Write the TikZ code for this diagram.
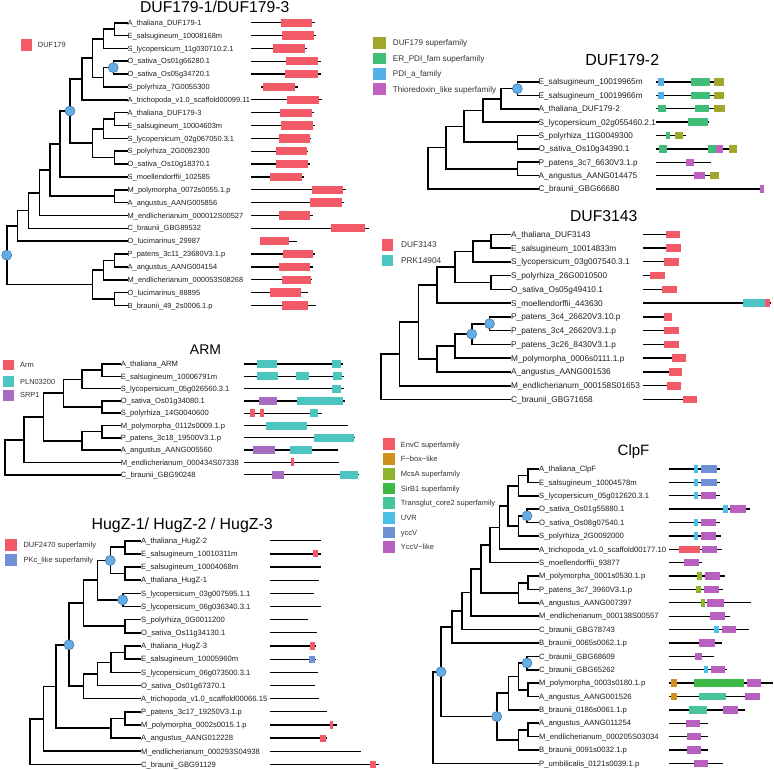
\documentclass[tikz,border=0pt]{standalone}
\usepackage{fontspec}
\setmainfont{Liberation Sans}
\definecolor{cred}{RGB}{242,90,104}
\definecolor{cduf}{RGB}{160,168,42}
\definecolor{cer}{RGB}{64,190,120}
\definecolor{cpdi}{RGB}{85,176,232}
\definecolor{cthio}{RGB}{192,96,192}
\definecolor{cteal}{RGB}{76,196,196}
\definecolor{cpln}{RGB}{76,196,192}
\definecolor{csrp}{RGB}{165,108,194}
\definecolor{cpkc}{RGB}{112,144,212}
\definecolor{cfbox}{RGB}{208,144,30}
\definecolor{cmcsa}{RGB}{141,181,42}
\definecolor{csirb}{RGB}{60,185,68}
\definecolor{ctrans}{RGB}{72,196,153}
\definecolor{cuvr}{RGB}{74,192,232}
\definecolor{cyccv}{RGB}{112,144,212}
\definecolor{cylike}{RGB}{184,96,192}
\definecolor{cblue}{RGB}{100,172,228}
\definecolor{cblueD}{RGB}{60,110,160}
\begin{document}
\begin{tikzpicture}[x=1pt,y=-1pt,
 br/.style={line width=1.6pt, line join=miter, black},
 dom/.style={line width=1.3pt, black},
 circ/.style={circle, fill=cblue, draw=cblueD, line width=0.5pt, minimum size=10pt, inner sep=0pt},
 labbase/.style={anchor=west, inner sep=0pt, text=black!88, text depth=0pt},
 labA/.style={labbase, font=\fontsize{7.45}{8}\selectfont, text height=5.33pt},
 labB/.style={labbase, font=\fontsize{8.2}{9}\selectfont, text height=5.87pt},
 labC/.style={labbase, font=\fontsize{8.3}{9}\selectfont, text height=5.94pt},
 labD/.style={labbase, font=\fontsize{7.6}{8}\selectfont, text height=5.44pt},
 labE/.style={labbase, font=\fontsize{7.65}{8}\selectfont, text height=5.48pt},
 labF/.style={labbase, font=\fontsize{7.7}{8}\selectfont, text height=5.51pt},
 ttl/.style={inner sep=0pt, text=black, text depth=0pt},
 lsq/.style={minimum width=11.5pt, minimum height=11.5pt, inner sep=0pt, draw=none},
 ltx/.style={labbase, text=black!80}
]
\fill[white] (0,0) rectangle (774,769);
\useasboundingbox (0,0) rectangle (774,769);

% ================= DUF179-1 / DUF179-3 =================
\node[ttl, font=\fontsize{15.7}{16}\selectfont, text height=11.2pt] (T1) at (214.7,6.9) {DUF179-1/DUF179-3};
\node[lsq, fill=cred] (L1a) at (26.35,45) {};
\node[ltx, font=\fontsize{7.5}{8}\selectfont, text height=5.4pt] (L1at) at (37.7,45) {DUF179};
\foreach \n/\y/\lbl in {1/22.7/A\_thaliana\_DUF179-1, 2/35.55/E\_salsugineum\_10008168m, 3/48.4/S\_lycopersicum\_11g030710.2.1, 4/61.25/O\_sativa\_Os01g66280.1, 5/74.1/O\_sativa\_Os05g34720.1, 6/86.95/S\_polyrhiza\_7G0055300, 7/99.8/A\_trichopoda\_v1.0\_scaffold00099.11, 8/112.65/A\_thaliana\_DUF179-3, 9/125.5/E\_salsugineum\_10004603m, 10/138.35/S\_lycopersicum\_02g067050.3.1, 11/151.2/S\_polyrhiza\_2G0092300, 12/164.05/O\_sativa\_Os10g18370.1, 13/176.9/S\_moellendorffii\_102585, 14/189.75/M\_polymorpha\_0072s0055.1.p, 15/202.6/A\_angustus\_AANG005856, 16/215.45/M\_endlicherianum\_000012S00527, 17/228.3/C\_braunii\_GBG89532, 18/241.15/O\_lucimarinus\_29987, 19/254/P\_patens\_3c11\_23680V3.1.p, 20/266.85/A\_angustus\_AANG004154, 21/279.7/M\_endlicherianum\_000053S08268, 22/292.55/O\_lucimarinus\_88895, 23/305.4/B\_braunii\_49\_2s0006.1.p}
  {\node[labA] (Pt\n) at (127.5,\y) {\lbl};}
\coordinate (Pa1) at (114.3,29.125);
\coordinate (Pa2) at (103.3,38.76);
\coordinate (Pa3) at (113.3,67.675);
\coordinate (Pa4) at (103.3,77.31);
\coordinate (Pa5) at (92.3,58.04);
\coordinate (Pa6) at (81.7,78.92);
\coordinate (Pb1) at (114.3,119.075);
\coordinate (Pb2) at (103.3,128.71);
\coordinate (Pb3) at (114.3,157.625);
\coordinate (Pb4) at (92.3,143.17);
\coordinate (Pd) at (70,111.05);
\coordinate (Pc) at (60,143.97);
\coordinate (Pe1) at (114.3,196.175);
\coordinate (PB) at (50,170.07);
\coordinate (PA) at (39.3,192.76);
\coordinate (Pf) at (28.3,210.53);
\coordinate (Pg) at (17.3,225.84);
\coordinate (Ph1) at (114.3,260.425);
\coordinate (Ph2) at (103.3,270.06);
\coordinate (Ph3) at (114.3,298.975);
\coordinate (Ph4) at (92.3,284.52);
\coordinate (Proot) at (6.7,255.18);
\foreach \p/\c in {Proot/Pg, Proot/Ph4, Pg/Pf, Pf/PA, PA/PB, PB/Pc, PB/Pe1, Pc/Pd, Pd/Pa6, Pd/Pb4, Pa6/Pa5, Pa5/Pa2, Pa5/Pa4, Pa2/Pa1, Pa4/Pa3, Pb4/Pb2, Pb4/Pb3, Pb2/Pb1, Ph4/Ph2, Ph4/Ph3, Ph2/Ph1}
  {\draw[br] (\p) |- (\c);}
\foreach \p/\c in {Pa1/Pt1, Pa1/Pt2, Pa2/Pt3, Pa3/Pt4, Pa3/Pt5, Pa4/Pt6, Pa6/Pt7, Pb1/Pt8, Pb1/Pt9, Pb2/Pt10, Pb3/Pt11, Pb3/Pt12, Pc/Pt13, Pe1/Pt14, Pe1/Pt15, PA/Pt16, Pf/Pt17, Pg/Pt18, Ph1/Pt19, Ph1/Pt20, Ph2/Pt21, Ph3/Pt22, Ph3/Pt23}
  {\draw[br] (\p) |- (\c.west);}
\foreach \y/\a/\b in {22.7/251/315, 35.55/251/316.3, 48.4/251/307.3, 61.25/251/320.7, 74.1/251/320.7, 86.95/261/297.7, 99.8/251/321.7, 112.65/251/314.3, 125.5/251/314.7, 138.35/251/311, 151.2/251/308.3, 164.05/251/309.7, 176.9/251/304.3, 189.75/251/346, 202.6/251/344.3, 215.45/251/312.7, 228.3/251/368.7, 241.15/260/297.3, 254/251/315, 266.85/251/312.7, 279.7/251/311.7, 292.55/251/307.7, 305.4/251/316}
  {\draw[dom] (\a,\y) -- (\b,\y);}
\foreach \y/\a/\b in {22.7/281/312.3, 35.55/282/313.7, 48.4/273/305, 61.25/285.7/318.3, 74.1/285/317.7, 86.95/263.3/295.3, 99.8/287/319, 112.65/280.3/312.3, 125.5/281/313.3, 138.35/278.7/310, 151.2/276.3/307, 164.05/275.7/308.3, 176.9/270.3/301.7, 189.75/312.3/343.3, 202.6/310.3/341.7, 215.45/279/309.7, 228.3/331.3/365.3, 241.15/260.3/288.7, 254/283/313, 266.85/279/310, 279.7/282/310.7, 292.55/270.3/301.3, 305.4/281.7/308}
  {\fill[cred] (\a,{\y-4.15}) rectangle (\b,{\y+4.15});}
\foreach \c in {Pa3,Pd,Proot} {\node[circ] (C\c) at (\c) {};}

% ================= DUF179-2 =================
\node[ttl, font=\fontsize{16}{17}\selectfont, text height=11.45pt] (T2) at (622.3,60) {DUF179-2};
\foreach \n/\y/\c/\lbl in {1/43/cduf/DUF179 superfamily, 2/58.6/cer/ER\_PDI\_fam superfamily, 3/74/cpdi/PDI\_a\_family, 4/89.3/cthio/Thioredoxin\_like superfamily}
  {\node[lsq, fill=\c, minimum width=12.3pt, minimum height=11.7pt] (L2s\n) at (379.5,\y) {};
   \node[ltx, font=\fontsize{8.15}{9}\selectfont, text height=5.84pt] (L2t\n) at (392.7,\y) {\lbl};}
\foreach \n/\y/\lbl in {1/82/E\_salsugineum\_10019965m, 2/95.375/E\_salsugineum\_10019966m, 3/108.75/A\_thaliana\_DUF179-2, 4/122.125/S\_lycopersicum\_02g055460.2.1, 5/135.5/S\_polyrhiza\_11G0049300, 6/148.875/O\_sativa\_Os10g34390.1, 7/162.25/P\_patens\_3c7\_6630V3.1.p, 8/175.625/A\_angustus\_AANG014475, 9/189/C\_braunii\_GBG66680}
  {\node[labB] (Qt\n) at (538.5,\y) {\lbl};}
\coordinate (Qp1) at (517.3,88.69);
\coordinate (Qp2) at (500.7,98.72);
\coordinate (Qp3) at (482.7,110.42);
\coordinate (Qp4) at (517.3,142.19);
\coordinate (Qp5) at (464,126.3);
\coordinate (Qp6) at (517.3,168.94);
\coordinate (Qp7) at (446,147.62);
\coordinate (Qroot) at (427.7,168.31);
\foreach \p/\c in {Qroot/Qp7, Qp7/Qp5, Qp7/Qp6, Qp5/Qp3, Qp5/Qp4, Qp3/Qp2, Qp2/Qp1}
  {\draw[br] (\p) |- (\c);}
\foreach \p/\c in {Qp1/Qt1, Qp1/Qt2, Qp2/Qt3, Qp3/Qt4, Qp4/Qt5, Qp4/Qt6, Qp6/Qt7, Qp6/Qt8, Qroot/Qt9}
  {\draw[br] (\p) |- (\c.west);}
\foreach \y/\a/\b in {82/655.7/724, 95.375/655.7/724, 108.75/655.7/724.7, 122.125/655.7/708.7, 135.5/656/685.7, 148.875/655.7/737.3, 162.25/655.7/710.7, 175.625/655.7/719.3, 189/655.7/764}
  {\draw[dom] (\a,\y) -- (\b,\y);}
\foreach \c/\y/\a/\b in {cpdi/82/657.7/664.3, cer/82/691.3/709.7, cduf/82/714.3/724, cpdi/95.375/657.7/664.3, cer/95.375/691.3/709.7, cduf/95.375/714.3/724, cer/108.75/657.7/666.3, cer/108.75/695/709.3, cduf/108.75/714.3/724.7, cer/122.125/688.3/708, cer/135.5/666/670, cduf/135.5/675/683.3, cer/148.875/658.7/666.7, cer/148.875/707.7/716, cthio/148.875/716/723.3, cduf/148.875/728.7/737, cthio/162.25/685.7/694.3, cthio/175.625/694/704.7, cduf/175.625/710/719, cthio/189/760.3/763.7}
  {\fill[\c] (\a,{\y-3.7}) rectangle (\b,{\y+3.7});}
\node[circ] (CQp1) at (Qp1) {};

% ================= DUF3143 =================
\node[ttl, font=\fontsize{15.7}{16}\selectfont, text height=11.2pt] (T3) at (603.7,215.8) {DUF3143};
\foreach \n/\y/\c/\lbl in {1/245/cred/DUF3143, 2/260.7/cteal/PRK14904}
  {\node[lsq, fill=\c] (L3s\n) at (387.7,\y) {};
   \node[ltx, font=\fontsize{8.3}{9}\selectfont, text height=5.94pt] (L3t\n) at (401,\y) {\lbl};}
\foreach \n/\y/\lbl in {1/234.3/A\_thaliana\_DUF3143, 2/248.05/E\_salsugineum\_10014833m, 3/261.8/S\_lycopersicum\_03g007540.3.1, 4/275.6/S\_polyrhiza\_26G0010500, 5/289.3/O\_sativa\_Os05g49410.1, 6/303.1/S\_moellendorffii\_443630, 7/316.9/P\_patens\_3c4\_26620V3.10.p, 8/330.6/P\_patens\_3c4\_26620V3.1.p, 9/344.4/P\_patens\_3c26\_8430V3.1.p, 10/358.1/M\_polymorpha\_0006s0111.1.p, 11/371.9/A\_angustus\_AANG001536, 12/385.7/M\_endlicherianum\_000158S01653, 13/399.4/C\_braunii\_GBG71658}
  {\node[labC] (Rt\n) at (511,\y) {\lbl};}
\coordinate (Rq1) at (490.7,241.18);
\coordinate (Rq2) at (472.7,251.49);
\coordinate (Rq3) at (490.7,282.45);
\coordinate (Rq4) at (455,266.97);
\coordinate (Rq5) at (436.7,285.03);
\coordinate (Rq6) at (489.5,323.75);
\coordinate (Rq7) at (471.7,334.08);
\coordinate (Rq8) at (455,346.09);
\coordinate (Rq9) at (436.7,359.0);
\coordinate (Rq10) at (418.3,322.0);
\coordinate (Rq11) at (399.3,353.85);
\coordinate (Rroot) at (380.7,376.6);
\foreach \p/\c in {Rroot/Rq11, Rq11/Rq10, Rq10/Rq5, Rq10/Rq9, Rq5/Rq4, Rq4/Rq2, Rq4/Rq3, Rq2/Rq1, Rq9/Rq8, Rq8/Rq7, Rq7/Rq6}
  {\draw[br] (\p) |- (\c);}
\foreach \p/\c in {Rq1/Rt1, Rq1/Rt2, Rq2/Rt3, Rq3/Rt4, Rq3/Rt5, Rq5/Rt6, Rq6/Rt7, Rq6/Rt8, Rq7/Rt9, Rq8/Rt10, Rq9/Rt11, Rq11/Rt12, Rroot/Rt13}
  {\draw[br] (\p) |- (\c.west);}
\foreach \y/\a/\b in {234.3/642.7/680, 248.05/642.7/681, 261.8/642.7/678.7, 275.6/642.7/665.3, 289.3/642.7/677, 303.1/642.7/770.7, 316.9/642.7/672, 330.6/642.7/679.3, 344.4/642.7/679, 358.1/642.7/686.3, 371.9/642.7/682, 385.7/642.7/681, 399.4/642.7/696.7}
  {\draw[dom] (\a,\y) -- (\b,\y);}
\foreach \c/\y/\a/\b in {cred/234.3/665.7/680, cred/248.05/666/680.7, cred/261.8/663.7/678.7, cred/275.6/650.3/665.3, cred/289.3/662.3/677, cteal/303.1/742.7/765.3, cred/303.1/765.3/770, cred/316.9/664.3/672, cred/330.6/664.3/679.3, cred/344.4/664/679, cred/358.1/672/686.3, cred/371.9/669/682, cred/385.7/667/681, cred/399.4/682.7/696.7}
  {\fill[\c] (\a,{\y-3.8}) rectangle (\b,{\y+3.8});}
\foreach \c in {Rq6,Rq7} {\node[circ] (C\c) at (\c) {};}

% ================= ARM =================
\node[ttl, font=\fontsize{14}{15}\selectfont, text height=10pt] (T4) at (205.5,349) {ARM};
\foreach \n/\y/\c/\lbl in {1/365/cred/Arm, 2/381.7/cpln/PLN03200, 3/395.3/csrp/SRP1}
  {\node[lsq, fill=\c, minimum width=11.3pt, minimum height=10.8pt] (L4s\n) at (8.35,\y) {};
   \node[ltx, font=\fontsize{7.4}{8}\selectfont, text height=5.3pt] (L4t\n) at (20,\y) {\lbl};}
\foreach \n/\y/\lbl in {1/364/A\_thaliana\_ARM, 2/376.3/E\_salsugineum\_10006791m, 3/388.6/S\_lycopersicum\_05g026560.3.1, 4/400.9/O\_sativa\_Os01g34080.1, 5/413.2/S\_polyrhiza\_14G0040600, 6/425.5/M\_polymorpha\_0112s0009.1.p, 7/437.8/P\_patens\_3c18\_19500V3.1.p, 8/450.1/A\_angustus\_AANG005560, 9/462.4/M\_endlicherianum\_000434S07338, 10/474.7/C\_braunii\_GBG90248}
  {\node[labD] (St\n) at (120.7,\y) {\lbl};}
\coordinate (Sm1) at (101.7,370.15);
\coordinate (Sm2) at (81.7,379.38);
\coordinate (Sm3) at (101.7,407.05);
\coordinate (Sm4) at (63.3,393.2);
\coordinate (Sm5) at (101.7,431.65);
\coordinate (Sm6) at (81.7,440.88);
\coordinate (Sm7) at (43.3,417.04);
\coordinate (Sm8) at (24,439.72);
\coordinate (Sroot) at (5,457.2);
\foreach \p/\c in {Sroot/Sm8, Sm8/Sm7, Sm7/Sm4, Sm7/Sm6, Sm4/Sm2, Sm4/Sm3, Sm2/Sm1, Sm6/Sm5}
  {\draw[br] (\p) |- (\c);}
\foreach \p/\c in {Sm1/St1, Sm1/St2, Sm2/St3, Sm3/St4, Sm3/St5, Sm5/St6, Sm5/St7, Sm6/St8, Sm8/St9, Sroot/St10}
  {\draw[br] (\p) |- (\c.west);}
\foreach \y/\a/\b in {364/244/343.3, 376.3/244/344.3, 388.6/244/343.7, 400.9/244/345, 413.2/244/322, 425.5/244/348.3, 437.8/244/355.3, 450.1/244/338, 462.4/244/339.3, 474.7/244/359.3}
  {\draw[dom] (\a,\y) -- (\b,\y);}
\foreach \c/\y/\a/\b in {cpln/364/257/277.3, cpln/364/331.7/340.7, cpln/376.3/257/278, cpln/376.3/296/309.3, cpln/376.3/333/342, cpln/388.6/332/341, csrp/400.9/259.3/277, cpln/400.9/297/342.7, cred/413.2/250/254.7, cred/413.2/260/264.3, cpln/413.2/310.3/317.7, cpln/425.5/266.3/307.3, cpln/437.8/314.3/353.7, csrp/450.1/252.7/275.3, cpln/450.1/290/312, cred/462.4/291.3/293.7, csrp/474.7/271.7/284, cpln/474.7/340/358}
  {\fill[\c] (\a,{\y-4}) rectangle (\b,{\y+4});}

% ================= HugZ =================
\node[ttl, font=\fontsize{15.9}{16}\selectfont, text height=11.4pt] (T5) at (182.2,524.2) {HugZ-1/ HugZ-2 / HugZ-3};
\foreach \n/\y/\c/\lbl in {1/545/cred/DUF2470 superfamily, 2/560/cpkc/PKc\_like superfamily}
  {\node[lsq, fill=\c, minimum width=11.7pt] (L5s\n) at (10.85,\y) {};
   \node[ltx, font=\fontsize{7.5}{8}\selectfont, text height=5.4pt] (L5t\n) at (23.3,\y) {\lbl};}
\foreach \n/\y/\lbl in {1/540.7/A\_thaliana\_HugZ-2, 2/553.86/E\_salsugineum\_10010311m, 3/567.02/E\_salsugineum\_10004068m, 4/580.18/A\_thaliana\_HugZ-1, 5/593.34/S\_lycopersicum\_03g007595.1.1, 6/606.5/S\_lycopersicum\_06g036340.3.1, 7/619.66/S\_polyrhiza\_0G0011200, 8/632.82/O\_sativa\_Os11g34130.1, 9/645.98/A\_thaliana\_HugZ-3, 10/659.14/E\_salsugineum\_10005960m, 11/672.3/S\_lycopersicum\_06g073500.3.1, 12/685.46/O\_sativa\_Os01g67370.1, 13/698.62/A\_trichopoda\_v1.0\_scaffold00066.15, 14/711.78/P\_patens\_3c17\_19250V3.1.p, 15/724.94/M\_polymorpha\_0002s0015.1.p, 16/738.1/A\_angustus\_AANG012228, 17/751.26/M\_endlicherianum\_000293S04938, 18/764.42/C\_braunii\_GBG91129}
  {\node[labE] (Ut\n) at (141,\y) {\lbl};}
\coordinate (Uh1) at (125,547.28);
\coordinate (Uh2) at (125,573.6);
\coordinate (Uh3) at (110.3,560.44);
\coordinate (Uh4) at (122.7,599.92);
\coordinate (Uh5) at (97.3,580.18);
\coordinate (Uh6) at (125,626.24);
\coordinate (Uh7) at (83.3,603.21);
\coordinate (Uh8) at (125,652.56);
\coordinate (Uh9) at (111,662.43);
\coordinate (Uh10) at (97.3,673.95);
\coordinate (Uh11) at (83.3,686.28);
\coordinate (Uh12) at (69,644.75);
\coordinate (Uh13) at (125,718.36);
\coordinate (Uh14) at (111,728.23);
\coordinate (Uh15) at (56,686.49);
\coordinate (Uh16) at (43.3,718.88);
\coordinate (Uroot) at (30,741.65);
\foreach \p/\c in {Uroot/Uh16, Uh16/Uh15, Uh15/Uh12, Uh15/Uh14, Uh12/Uh7, Uh12/Uh11, Uh7/Uh5, Uh7/Uh6, Uh5/Uh3, Uh5/Uh4, Uh3/Uh1, Uh3/Uh2, Uh11/Uh10, Uh10/Uh9, Uh9/Uh8, Uh14/Uh13}
  {\draw[br] (\p) |- (\c);}
\foreach \p/\c in {Uh1/Ut1, Uh1/Ut2, Uh2/Ut3, Uh2/Ut4, Uh4/Ut5, Uh4/Ut6, Uh6/Ut7, Uh6/Ut8, Uh8/Ut9, Uh8/Ut10, Uh9/Ut11, Uh10/Ut12, Uh11/Ut13, Uh13/Ut14, Uh13/Ut15, Uh14/Ut16, Uh16/Ut17, Uroot/Ut18}
  {\draw[br] (\p) |- (\c.west);}
\foreach \y/\a/\b in {540.7/270/320.7, 553.86/270/320.7, 567.02/270/320.7, 580.18/270/319, 593.34/270/314.3, 606.5/270/321, 619.66/270/308, 632.82/270/317, 645.98/270/316.3, 659.14/270/316.3, 672.3/270/317.7, 685.46/270/315.3, 698.62/270/318.7, 711.78/270/327.3, 724.94/270/337.3, 738.1/270/326.7, 751.26/270/360.7, 764.42/270/378.7}
  {\draw[dom] (\a,\y) -- (\b,\y);}
\foreach \c/\y/\a/\b in {cred/553.86/313.3/318.3, cred/645.98/310/314.7, cpkc/659.14/309.3/314.7, cred/724.94/330.3/333.3, cred/738.1/320.3/326.3, cred/764.42/370.3/376.3}
  {\fill[\c] (\a,{\y-3.6}) rectangle (\b,{\y+3.6});}
\foreach \c in {Uh3,Uh4,Uh12} {\node[circ] (C\c) at (\c) {};}

% ================= ClpF =================
\node[ttl, font=\fontsize{15}{16}\selectfont, text height=10.7pt] (T6) at (633.5,450) {ClpF};
\foreach \n/\y/\c/\lbl in {1/444.3/cred/EnvC superfamily, 2/459/cfbox/F−box−like, 3/473.7/cmcsa/McsA superfamily, 4/488.4/csirb/SirB1 superfamily, 5/503.1/ctrans/Transglut\_core2 superfamily, 6/517.8/cuvr/UVR, 7/532.5/cyccv/yccV, 8/547.2/cylike/YccV−like}
  {\node[lsq, fill=\c, minimum height=11.7pt] (L6s\n) at (389,\y) {};
   \node[ltx, font=\fontsize{7.5}{8}\selectfont, text height=5.4pt] (L6t\n) at (400.7,\y) {\lbl};}
\foreach \n/\y/\lbl in {1/469/A\_thaliana\_ClpF, 2/482.38/E\_salsugineum\_10004578m, 3/495.76/S\_lycopersicum\_05g012620.3.1, 4/509.14/O\_sativa\_Os01g55880.1, 5/522.52/O\_sativa\_Os08g07540.1, 6/535.9/S\_polyrhiza\_2G0092000, 7/549.28/A\_trichopoda\_v1.0\_scaffold00177.10, 8/562.66/S\_moellendorffii\_93877, 9/576.04/M\_polymorpha\_0001s0530.1.p, 10/589.42/P\_patens\_3c7\_3960V3.1.p, 11/602.8/A\_angustus\_AANG007397, 12/616.18/M\_endlicherianum\_000138S00557, 13/629.56/C\_braunii\_GBG78743, 14/642.94/B\_braunii\_0065s0062.1.p, 15/656.32/C\_braunii\_GBG68609, 16/669.7/C\_braunii\_GBG65262, 17/683.08/M\_polymorpha\_0003s0180.1.p, 18/696.46/A\_angustus\_AANG001526, 19/709.84/B\_braunii\_0186s0061.1.p, 20/723.22/A\_angustus\_AANG011254, 21/736.6/M\_endlicherianum\_000205S03034, 22/749.98/B\_braunii\_0091s0032.1.p, 23/763.36/P\_umbilicalis\_0121s0039.1.p}
  {\node[labF] (Vt\n) at (539,\y) {\lbl};}
\coordinate (Vk1) at (527.7,475.69);
\coordinate (Vk2) at (518.3,485.73);
\coordinate (Vk3) at (527,515.83);
\coordinate (Vk4) at (518.3,525.87);
\coordinate (Vk5) at (508,505.8);
\coordinate (Vk6) at (499.3,527.54);
\coordinate (Vk7) at (490,545.1);
\coordinate (Vk8) at (527.7,582.73);
\coordinate (Vk9) at (518.3,592.77);
\coordinate (Vk10) at (480.7,568.94);
\coordinate (Vk11) at (471,592.56);
\coordinate (Vk12) at (461.7,611.06);
\coordinate (Vk13) at (451.7,627.0);
\coordinate (Vk14) at (527,663.01);
\coordinate (Vk15) at (527.7,689.77);
\coordinate (Vk16) at (518.3,676.39);
\coordinate (Vk17) at (508.3,693.12);
\coordinate (Vk18) at (527.7,729.91);
\coordinate (Vk19) at (518.3,739.95);
\coordinate (Vk20) at (496.7,716.53);
\coordinate (Vk21) at (441,671.77);
\coordinate (Vroot) at (432.7,717.56);
\foreach \p/\c in {Vroot/Vk21, Vk21/Vk13, Vk21/Vk20, Vk13/Vk12, Vk12/Vk11, Vk11/Vk10, Vk10/Vk7, Vk10/Vk9, Vk7/Vk6, Vk6/Vk5, Vk5/Vk2, Vk5/Vk4, Vk2/Vk1, Vk4/Vk3, Vk9/Vk8, Vk20/Vk17, Vk20/Vk19, Vk17/Vk16, Vk16/Vk14, Vk16/Vk15, Vk19/Vk18}
  {\draw[br] (\p) |- (\c);}
\foreach \p/\c in {Vk1/Vt1, Vk1/Vt2, Vk2/Vt3, Vk3/Vt4, Vk3/Vt5, Vk4/Vt6, Vk6/Vt7, Vk7/Vt8, Vk8/Vt9, Vk8/Vt10, Vk9/Vt11, Vk11/Vt12, Vk12/Vt13, Vk13/Vt14, Vk14/Vt15, Vk14/Vt16, Vk15/Vt17, Vk15/Vt18, Vk17/Vt19, Vk18/Vt20, Vk18/Vt21, Vk19/Vt22, Vroot/Vt23}
  {\draw[br] (\p) |- (\c.west);}
\foreach \y/\a/\b in {469/669.3/720, 482.38/669.3/720, 495.76/669.3/720, 509.14/669.3/750.3, 522.52/669.3/720.3, 535.9/669.3/720.7, 549.28/669.3/721.7, 562.66/669.3/701.7, 576.04/669.3/725.3, 589.42/669.3/723, 602.8/669.3/751.3, 616.18/669.3/730, 629.56/669.3/748.7, 642.94/669.3/721.7, 656.32/669.3/714.3, 669.7/669.3/727, 683.08/669.3/772.7, 696.46/669.3/760, 709.84/669.3/744.7, 723.22/669.3/708.3, 736.6/669.3/708.3, 749.98/669.3/708.3, 763.36/669.3/723.3}
  {\draw[dom] (\a,\y) -- (\b,\y);}
\foreach \c/\y/\a/\b in {cuvr/469/694/698.3, cyccv/469/700.7/717, cuvr/482.38/694/698.3, cyccv/482.38/700.7/717, cuvr/495.76/694/698.3, cylike/495.76/700.7/716, cuvr/509.14/723.3/727.7, cylike/509.14/730/745.7, cuvr/522.52/694/698.3, cylike/522.52/700.7/715.7, cuvr/535.9/694/698.3, cylike/535.9/701.3/716.3, cred/549.28/679/700.3, cylike/549.28/701.7/716.7, cylike/562.66/684/699, cmcsa/576.04/697.3/702, cylike/576.04/705.3/720.3, cmcsa/589.42/696.3/701, cylike/589.42/704/719, cmcsa/602.8/700.7/705, cylike/602.8/706.7/723.7, cylike/616.18/710/725, cuvr/629.56/714.3/719.3, cylike/629.56/721.7/736.3, cylike/642.94/698.7/715, cylike/656.32/694.7/702, cuvr/669.7/703.7/708.3, cylike/669.7/710.7/725, cfbox/683.08/671/677.3, csirb/683.08/693.7/744, cylike/683.08/746.7/760.7, cfbox/696.46/671/677.3, ctrans/696.46/698.7/726, cylike/696.46/745/760, ctrans/709.84/689/706.7, cylike/709.84/722.7/737.7, cylike/723.22/686.3/700, cylike/736.6/687/700.7, cylike/749.98/687/701, cylike/763.36/694.3/708.3}
  {\fill[\c] (\a,{\y-3.7}) rectangle (\b,{\y+3.7});}
\foreach \c in {Vk3,Vk14,Vk20,Vk21} {\node[circ] (C\c) at (\c) {};}
\end{tikzpicture}
\end{document}
